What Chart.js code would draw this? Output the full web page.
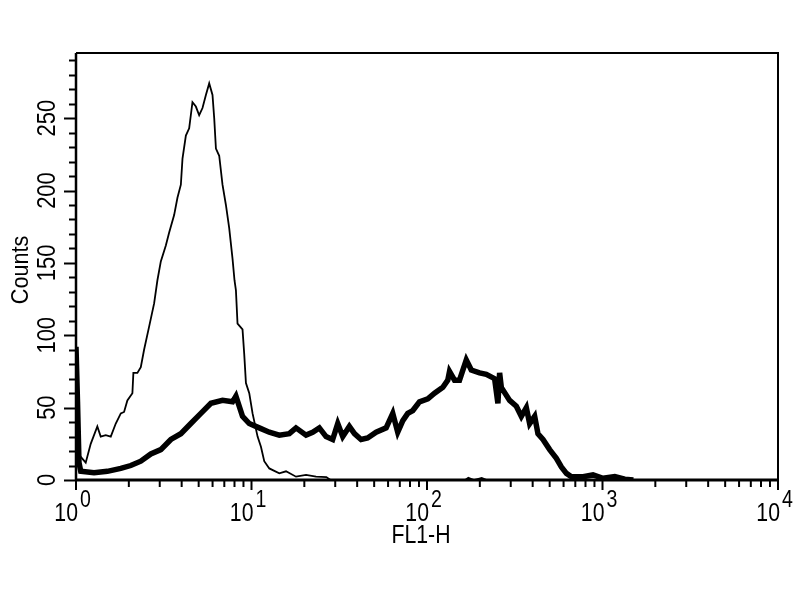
<!DOCTYPE html>
<html>
<head>
<meta charset="utf-8">
<script src="https://cdn.jsdelivr.net/npm/chart.js@4.4.1/dist/chart.umd.min.js"></script>
<style>
  html, body { margin: 0; padding: 0; background: #fff; }
  canvas { display: block; }
</style>
</head>
<body>
<canvas id="histChart" width="800" height="600"></canvas>
<script>
// isotype control (thin line): FL1-H channel value and counts
var isoX = [1.02, 1.064, 1.136, 1.213, 1.323, 1.383, 1.477, 1.578, 1.685, 1.80, 1.879, 1.962, 2.096, 2.123, 2.238, 2.34, 2.443, 2.61, 2.787, 2.91,
    3.043, 3.25, 3.395, 3.624, 3.785, 3.958, 4.044, 4.227, 4.414, 4.609, 4.82, 5.033, 5.257, 5.497, 5.741, 5.995, 6.131, 6.27, 6.546, 6.836,
    7.148, 7.464, 7.796, 8.0, 8.152, 8.325, 8.889, 9.09, 9.296, 9.71, 10.14, 10.83, 11.32, 11.82, 12.63, 14.4, 15.73, 17.93, 20.45, 23.32,
    26.7, 28.2, 60, 165, 172, 185, 205, 219, 240];
var isoY = [10, 16, 12, 25, 37, 30, 31, 30, 39, 46, 47, 55, 60, 74, 74, 78, 90, 106, 122, 138,
    151, 162, 171, 183, 195, 204, 222, 238, 243, 261, 258, 252, 257, 266, 274, 266, 250, 229, 224, 204,
    190, 174, 153, 138, 131, 108, 104, 87, 67, 60, 46, 30, 23, 13, 8, 4.6, 6, 2.3, 3.5, 2.3,
    2, 0, 0, 0, 1.5, 0, 1.5, 0, 0];

// stained sample (thick line)
var stainX = [1.0, 1.02, 1.04, 1.064, 1.267, 1.509, 1.80, 2.051, 2.34, 2.669, 3.043, 3.471, 3.958, 4.513, 5.147, 5.87, 6.836, 7.796, 8.152, 8.889,
    9.71, 11.07, 12.63, 14.4, 16.42, 17.93, 20.45, 22.3, 24.35, 26.6, 29.0, 31.0, 33.1, 36.1, 38.6, 42.1, 45.9, 51.3, 58.5, 63.8,
    68.1, 72.8, 77.7, 83.0, 90.6, 101.1, 110.4, 123.1, 131.4, 134.4, 143.5, 153.2, 167.4, 178.8, 199.3, 217.7, 242.8, 253.5, 259.3, 265.1,
    295.7, 322.8, 344.8, 368.1, 384.5, 410.6, 428.8, 458, 500, 546, 583, 623, 665, 775, 883, 1007, 1175, 1340, 1500];
var stainY = [92, 54, 12, 6, 5, 6, 8, 10, 13, 18, 21, 28, 32, 39, 46, 53, 55, 54, 58, 44,
    39, 36, 33, 31, 32, 36, 31, 33, 36, 30, 28, 39, 30, 37, 32, 28, 29, 33, 36, 46,
    33, 41, 46, 48, 54, 56, 60, 64, 69, 75, 69, 69, 83, 76, 74, 73, 70, 53, 74, 64,
    55, 51, 44, 50, 39, 44, 32, 28, 21, 15, 9, 4.6, 2.3, 2.3, 3.5, 1.2, 2.3, 0.5, 0];

var yMajorTicks = [0, 50, 100, 150, 200, 250];
var yMinorStep = 10;
var xDecades = [0, 1, 2, 3, 4];
var yMax = 295;

function toPoints(xs, ys) {
    return xs.map(function(x, i) { return { x: x, y: ys[i] }; });
}

function drawCondensed(ctx, text, x, y, size, sx, align, baseline, rot) {
    ctx.save();
    ctx.translate(x, y);
    if (rot) ctx.rotate(rot);
    ctx.scale(sx, 1);
    ctx.font = size + 'px "Liberation Sans", Arial, sans-serif';
    ctx.textAlign = align;
    ctx.textBaseline = baseline;
    ctx.fillText(text, 0, 0);
    ctx.restore();
}

var framePlugin = {
    id: 'framePlugin',
    afterDraw: function(chart) {
        var ctx = chart.ctx;
        var a = chart.chartArea;
        var xs = chart.scales.x;
        var ys = chart.scales.y;
        ctx.save();
        ctx.strokeStyle = '#000';
        ctx.fillStyle = '#000';

        // box
        ctx.lineWidth = 2;
        ctx.beginPath();
        ctx.moveTo(a.left, a.top);
        ctx.lineTo(a.right, a.top);
        ctx.lineTo(a.right, a.bottom);
        ctx.stroke();
        ctx.lineWidth = 2.5;
        ctx.beginPath();
        ctx.moveTo(a.left, a.top);
        ctx.lineTo(a.left, a.bottom + 1);
        ctx.stroke();
        ctx.lineWidth = 3;
        ctx.beginPath();
        ctx.moveTo(a.left - 1, a.bottom);
        ctx.lineTo(a.right + 1, a.bottom);
        ctx.stroke();

        // y ticks
        ctx.lineWidth = 2;
        for (var v = 0; v <= yMax; v += yMinorStep) {
            var py = Math.round(ys.getPixelForValue(v)) + 0.5;
            var len = (v % 50 === 0) ? 12 : 7;
            ctx.beginPath();
            ctx.moveTo(a.left - len, py);
            ctx.lineTo(a.left, py);
            ctx.stroke();
        }
        yMajorTicks.forEach(function(t) {
            var py = ys.getPixelForValue(t);
            drawCondensed(ctx, String(t), 55, py, 25, 0.88, 'center', 'alphabetic', -Math.PI / 2);
        });

        // x ticks (log decades with minor 2..9)
        xDecades.forEach(function(d, i) {
            var base = Math.pow(10, d);
            var px = xs.getPixelForValue(base);
            ctx.lineWidth = 2;
            ctx.beginPath();
            ctx.moveTo(px, a.bottom);
            ctx.lineTo(px, a.bottom + 10);
            ctx.stroke();
            if (i < xDecades.length - 1) {
                for (var m = 2; m <= 9; m++) {
                    var mx = xs.getPixelForValue(base * m);
                    ctx.beginPath();
                    ctx.moveTo(mx, a.bottom);
                    ctx.lineTo(mx, a.bottom + 7);
                    ctx.stroke();
                }
            }
            drawCondensed(ctx, '10', px + 2, 521, 25, 0.85, 'right', 'alphabetic', 0);
            drawCondensed(ctx, String(d), px + 4, 507, 23, 0.85, 'left', 'alphabetic', 0);
        });

        // axis titles
        drawCondensed(ctx, 'FL1-H', 421, 543, 25, 0.85, 'center', 'alphabetic', 0);
        drawCondensed(ctx, 'Counts', 28, 270, 24, 0.9, 'center', 'alphabetic', -Math.PI / 2);
        ctx.restore();
    }
};

var histChart = new Chart(document.getElementById('histChart').getContext('2d'), {
    type: 'line',
    data: {
        datasets: [{
            label: 'Isotype',
            data: toPoints(isoX, isoY),
            borderColor: '#000',
            borderWidth: 1.8,
            pointRadius: 0,
            tension: 0,
            fill: false
        }, {
            label: 'FL1-H stained',
            data: toPoints(stainX, stainY),
            borderColor: '#000',
            borderWidth: 5.5,
            pointRadius: 0,
            tension: 0,
            fill: false
        }]
    },
    options: {
        responsive: false,
        animation: false,
        layout: { padding: { left: 76, right: 22, top: 53, bottom: 120 } },
        plugins: {
            legend: { display: false },
            tooltip: { enabled: false }
        },
        scales: {
            x: { type: 'logarithmic', min: 1, max: 10000, display: false },
            y: { type: 'linear', min: 0, max: yMax, display: false }
        }
    },
    plugins: [framePlugin]
});
</script>
</body>
</html>
